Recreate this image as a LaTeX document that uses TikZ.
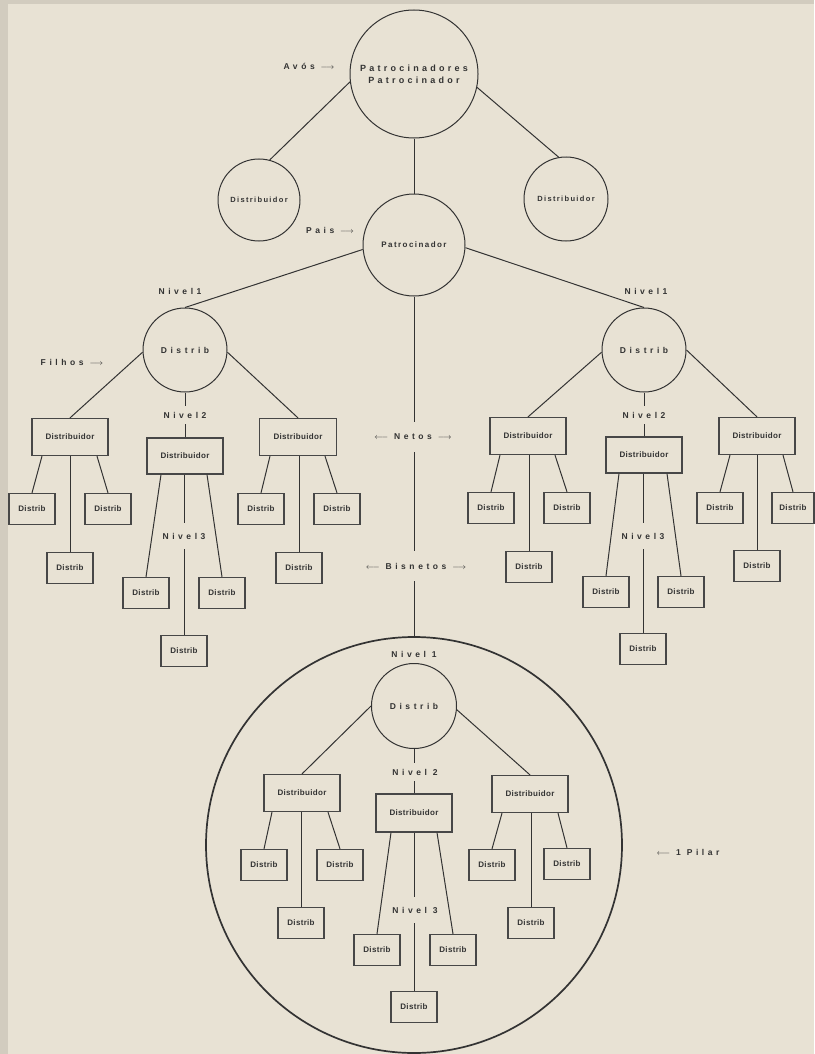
\documentclass[tikz,border=0pt]{standalone}
\usepackage{fontspec}
\setmainfont{Liberation Sans}
\newfontfamily\widefont[LetterSpace=42]{Liberation Sans}
\newfontfamily\topfont[LetterSpace=36]{Liberation Sans}
\newfontfamily\medfont[LetterSpace=18]{Liberation Sans}
\newfontfamily\boxfont[LetterSpace=4]{Liberation Sans}
\definecolor{paper}{HTML}{E8E2D4}
\definecolor{paperedge}{HTML}{D2CCBF}
\definecolor{ink}{HTML}{333333}
\definecolor{txt}{HTML}{333333}
\begin{document}
\begin{tikzpicture}[x=1pt,y=-1pt,
  every node/.style={text=txt, inner sep=0pt},
  circ/.style={draw=ink, line width=1pt, circle, align=center,
    font=\widefont\bfseries\fontsize{8.5}{10}\selectfont},
  dbox/.style={draw=ink!90, line width=1.2pt, minimum width=76pt, minimum height=37pt,
    font=\boxfont\bfseries\fontsize{8}{9}\selectfont},
  leaf/.style={draw=ink!90, line width=1.2pt, minimum width=46pt, minimum height=31pt,
    font=\boxfont\bfseries\fontsize{8}{9}\selectfont},
  lvl/.style={font=\widefont\bfseries\fontsize{8.5}{10}\selectfont},
  gap/.style={inner ysep=#1},
  conn/.style={draw=ink, line width=1pt},
]
\useasboundingbox (0,0) rectangle (814,1054);
\fill[paper] (0,0) rectangle (814,1054);
\fill[paperedge] (0,0) rectangle (8,1054);
\fill[paperedge] (0,0) rectangle (814,4);

% --- top generation
\node[circ, minimum size=128pt, font=\topfont\bfseries\fontsize{9}{12}\selectfont] (top) at (414,74) {Patrocinadores\\Patrocinador};
\node[lvl] (avos) at (309,66) {Avós $\longrightarrow$};
\node[circ, minimum size=82pt, font=\medfont\bfseries\fontsize{7.5}{9}\selectfont] (dl) at (259,200) {Distribuidor};
\node[circ, minimum size=84pt, font=\medfont\bfseries\fontsize{7.5}{9}\selectfont] (dr) at (566,199) {Distribuidor};
\node[circ, minimum size=102pt, font=\medfont\bfseries\fontsize{8}{10}\selectfont] (pat) at (414,245) {Patrocinador};
\node[lvl] (pais) at (330,230) {Pais $\longrightarrow$};

\draw[conn] (top.187) -- (dl.75);
\draw[conn] (top.348) -- (dr.100);
\draw[conn] (top.south) -- (pat.north);

% --- level 1
\node[circ, minimum size=84pt] (c1) at (185,350) {Distrib};
\node[circ, minimum size=84pt] (c2) at (644,350) {Distrib};
\node[lvl] (n1l) at (180,291) {Nivel1};
\node[lvl] (n1r) at (646,291) {Nivel1};
\node[lvl] (filhos) at (72,362) {Filhos $\longrightarrow$};
\draw[conn] (pat.185) -- (c1.north);
\draw[conn] (pat.357) -- (c2.north);

% --- central axis labels
\node[lvl, gap=12pt] (netos) at (413,437) {$\longleftarrow$ Netos $\longrightarrow$};
\node[lvl, gap=12pt] (bisnetos) at (416,566) {$\longleftarrow$ Bisnetos $\longrightarrow$};

% --- left subtree
\node[dbox] (b1) at (70,437) {Distribuidor};
\node[dbox, minimum height=36pt] (b2) at (185,456) {Distribuidor};
\node[dbox, minimum width=77pt] (b3) at (298,437) {Distribuidor};
\node[lvl, gap=6pt] (n2l) at (185,415) {Nivel2};
\draw[conn] (c1.183) -- (b1.north);
\draw[conn] (c1.357) -- (b3.north);
\draw[conn] (c1.south) -- (c1.south |- n2l.north);
\draw[conn] (b2.north |- n2l.south) -- (b2.north);

\node[leaf] (l1) at (32,509) {Distrib};
\node[leaf] (l2) at (108,509) {Distrib};
\node[leaf] (l3) at (70,568) {Distrib};
\node[leaf] (l4) at (146,593) {Distrib};
\node[leaf] (l5) at (222,593) {Distrib};
\node[leaf] (l6) at (184,651) {Distrib};
\node[leaf] (l7) at (261,509) {Distrib};
\node[leaf] (l8) at (337,509) {Distrib};
\node[leaf] (l9) at (299,568) {Distrib};
\node[lvl, gap=10pt] (n3l) at (184,536) {Nivel3};

\draw[conn] ([xshift=-28pt]b1.south) -- (l1.north);
\draw[conn] (b1.south) -- (l3.north);
\draw[conn] ([xshift=27pt]b1.south) -- (l2.north);
\draw[conn] ([xshift=-24pt]b2.south) -- (l4.north);
\draw[conn] (l6.north |- b2.south) -- (l6.north |- n3l.north);
\draw[conn] (l6.north |- n3l.south) -- (l6.north);
\draw[conn] ([xshift=22pt]b2.south) -- (l5.north);
\draw[conn] ([xshift=-28pt]b3.south) -- (l7.north);
\draw[conn] (l9.north |- b3.south) -- (l9.north);
\draw[conn] ([xshift=27pt]b3.south) -- (l8.north);

% --- right subtree
\node[dbox] (rb1) at (528,436) {Distribuidor};
\node[dbox, minimum height=36pt] (rb2) at (644,455) {Distribuidor};
\node[dbox] (rb3) at (757,436) {Distribuidor};
\node[lvl, gap=6pt] (n2r) at (644,415) {Nivel2};
\draw[conn] (c2.183) -- (rb1.north);
\draw[conn] (c2.0) -- (rb3.north);
\draw[conn] (c2.south) -- (c2.south |- n2r.north);
\draw[conn] (rb2.north |- n2r.south) -- (rb2.north);

\node[leaf] (ra) at (491,508) {Distrib};
\node[leaf] (rbb) at (567,508) {Distrib};
\node[leaf] (rc) at (529,567) {Distrib};
\node[leaf] (rd) at (606,592) {Distrib};
\node[leaf] (re) at (681,592) {Distrib};
\node[leaf] (rf) at (643,649) {Distrib};
\node[leaf] (rg) at (720,508) {Distrib};
\node[leaf, minimum width=42pt] (rh) at (793,508) {Distrib};
\node[leaf] (ri) at (757,566) {Distrib};
\node[lvl, gap=10pt] (n3r) at (643,536) {Nivel3};

\draw[conn] ([xshift=-28pt]rb1.south) -- (ra.north);
\draw[conn] (rc.north |- rb1.south) -- (rc.north);
\draw[conn] ([xshift=27pt]rb1.south) -- (rbb.north);
\draw[conn] ([xshift=-25pt]rb2.south) -- (rd.north);
\draw[conn] (rf.north |- rb2.south) -- (rf.north |- n3r.north);
\draw[conn] (rf.north |- n3r.south) -- (rf.north);
\draw[conn] ([xshift=23pt]rb2.south) -- (re.north);
\draw[conn] ([xshift=-27pt]rb3.south) -- (rg.north);
\draw[conn] (ri.north |- rb3.south) -- (ri.north);
\draw[conn] ([xshift=26pt]rb3.south) -- (rh.north);

% --- big circle (1 Pilar)
\node[draw=ink, line width=1.7pt, circle, minimum size=416pt] (big) at (414,845) {};
\draw[conn] (pat.south) -- (pat.south |- netos.north);
\draw[conn] (pat.south |- netos.south) -- (pat.south |- bisnetos.north);
\draw[conn] (pat.south |- bisnetos.south) -- (big.north);
\node[lvl] (pilar) at (688,852) {$\longleftarrow$ 1 Pilar};

\node[lvl] (in1) at (414,654) {Nivel 1};
\node[circ, minimum size=85pt] (ic) at (414,706) {Distrib};
\node[lvl, gap=6pt] (in2) at (415,772) {Nivel 2};
\node[dbox] (ib1) at (302,793) {Distribuidor};
\node[dbox, minimum height=38pt] (ib2) at (414,813) {Distribuidor};
\node[dbox] (ib3) at (530,794) {Distribuidor};
\draw[conn] (ic.180) -- (ib1.north);
\draw[conn] (ic.355) -- (ib3.north);
\draw[conn] (ic.south) -- (ic.south |- in2.north);
\draw[conn] (ib2.north |- in2.south) -- (ib2.north);

\node[leaf] (L1) at (264,865) {Distrib};
\node[leaf] (L2) at (340,865) {Distrib};
\node[leaf] (L3) at (301,923) {Distrib};
\node[leaf] (M1) at (377,950) {Distrib};
\node[leaf] (M2) at (453,950) {Distrib};
\node[leaf] (M3) at (414,1007) {Distrib};
\node[leaf] (R1) at (492,865) {Distrib};
\node[leaf] (R2) at (567,864) {Distrib};
\node[leaf] (R3) at (531,923) {Distrib};
\node[lvl, gap=10pt] (in3) at (415,910) {Nivel 3};

\draw[conn] ([xshift=-30pt]ib1.south) -- (L1.north);
\draw[conn] (L3.north |- ib1.south) -- (L3.north);
\draw[conn] ([xshift=26pt]ib1.south) -- (L2.north);
\draw[conn] ([xshift=-23pt]ib2.south) -- (M1.north);
\draw[conn] (M3.north |- ib2.south) -- (M3.north |- in3.north);
\draw[conn] (M3.north |- in3.south) -- (M3.north);
\draw[conn] ([xshift=23pt]ib2.south) -- (M2.north);
\draw[conn] ([xshift=-28pt]ib3.south) -- (R1.north);
\draw[conn] (R3.north |- ib3.south) -- (R3.north);
\draw[conn] ([xshift=28pt]ib3.south) -- (R2.north);
\end{tikzpicture}
\end{document}
